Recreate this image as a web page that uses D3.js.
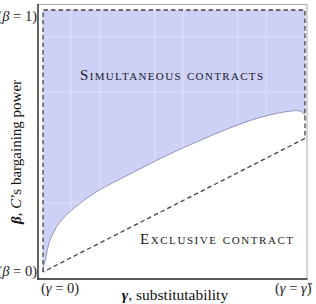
<!DOCTYPE html>
<html>
<head>
<meta charset="utf-8">
<script src="https://cdn.jsdelivr.net/npm/d3@7"></script>
<style>
  html, body { margin: 0; padding: 0; background: #fff; }
  svg { display: block; font-family: "Liberation Serif", "DejaVu Serif", serif; }
</style>
</head>
<body>
<svg id="chart" width="316" height="304"></svg>
<script>
// threshold curve: gamma (as share of gamma-hat) vs beta
const curveGamma = [0, 0.002, 0.0065, 0.019, 0.045, 0.083, 0.134, 0.197, 0.274, 0.332, 0.458, 0.587, 0.714, 0.840, 0.930, 0.968, 0.992, 1.0];
const curveBeta  = [0, 0.018, 0.034, 0.095, 0.160, 0.211, 0.256, 0.302, 0.344, 0.374, 0.438, 0.497, 0.550, 0.593, 0.612, 0.616, 0.607, 0.594];

// dashed feasible region outline
const boundGamma = [0, 0, 1, 1, 0];
const boundBeta  = [0, 1, 1, 0.51, 0];

const gridX = [0.107, 0.218, 0.427, 0.534, 0.744, 0.851];
const gridY = [0.897, 0.687, 0.263];

const svg = d3.select('#chart');

const x = d3.scaleLinear().domain([0, 1]).range([43, 305]);
const y = d3.scaleLinear().domain([0, 1]).range([272, 10]);

const curve = curveGamma.map((g, i) => ({ g, b: curveBeta[i] }));
const bound = boundGamma.map((g, i) => ({ g, b: boundBeta[i] }));

// shaded region above the curve
const area = d3.area()
    .x(d => x(d.g))
    .y0(y(1))
    .y1(d => y(d.b))
    .curve(d3.curveMonotoneX);

svg.append('path')
    .datum(curve)
    .attr('d', area)
    .attr('fill', '#cdd1f6');

// faint white grid
const grid = svg.append('g').attr('stroke', '#fff').attr('stroke-opacity', 0.45).attr('stroke-width', 0.8);
grid.selectAll('line.gx').data(gridX).enter().append('line')
    .attr('x1', d => x(d)).attr('x2', d => x(d))
    .attr('y1', y(1)).attr('y2', y(0));
grid.selectAll('line.gy').data(gridY).enter().append('line')
    .attr('x1', x(0)).attr('x2', x(1))
    .attr('y1', d => y(d)).attr('y2', d => y(d));

// curve line
svg.append('path')
    .datum(curve)
    .attr('d', d3.line().x(d => x(d.g)).y(d => y(d.b)).curve(d3.curveMonotoneX))
    .attr('fill', 'none')
    .attr('stroke', '#8a8cb0')
    .attr('stroke-width', 0.9);

// dashed boundary
svg.append('path')
    .datum(bound)
    .attr('d', d3.line().x(d => x(d.g)).y(d => y(d.b)))
    .attr('fill', 'none')
    .attr('stroke', '#444')
    .attr('stroke-width', 1.3)
    .attr('stroke-dasharray', '4.5,3');

// frame
svg.append('line').attr('x1', 38).attr('x2', 307).attr('y1', 4.5).attr('y2', 4.5)
    .attr('stroke', '#aaa').attr('stroke-width', 1);
svg.append('line').attr('x1', 307).attr('x2', 307).attr('y1', 4.5).attr('y2', 279)
    .attr('stroke', '#aaa').attr('stroke-width', 1);
svg.append('line').attr('x1', 38).attr('x2', 38).attr('y1', 4).attr('y2', 279.5)
    .attr('stroke', '#222').attr('stroke-width', 1.4);
svg.append('line').attr('x1', 37.3).attr('x2', 307.5).attr('y1', 279).attr('y2', 279)
    .attr('stroke', '#222').attr('stroke-width', 1.4);

// region labels
svg.append('text')
    .attr('x', 80).attr('y', 80)
    .attr('font-size', 15)
    .attr('fill', '#1a1a2e')
    .style('font-variant', 'small-caps')
    .attr('textLength', 183)
    .attr('lengthAdjust', 'spacing')
    .text('Simultaneous contracts');

svg.append('text')
    .attr('x', 140).attr('y', 244)
    .attr('font-size', 15)
    .attr('fill', '#1a1a1a')
    .style('font-variant', 'small-caps')
    .attr('textLength', 153)
    .attr('lengthAdjust', 'spacing')
    .text('Exclusive contract');

// endpoint labels
const endLabel = (tx, ty, anchor, sym, val) => {
    const t = svg.append('text').attr('x', tx).attr('y', ty)
        .attr('text-anchor', anchor).attr('font-size', 14.5).attr('fill', '#222');
    t.append('tspan').text('(');
    t.append('tspan').attr('font-style', 'italic').text(sym);
    t.append('tspan').text(' = ');
    t.append('tspan').attr('font-style', sym === 'γ' && val !== '0' ? 'italic' : 'normal').text(val);
    t.append('tspan').text(')');
};
endLabel(37, 21, 'end', 'β', '1');
endLabel(37, 276, 'end', 'β', '0');
endLabel(41, 293, 'start', 'γ', '0');
endLabel(275, 293, 'start', 'γ', 'γ\u0302');

// axis titles
const xt = svg.append('text').attr('x', 175).attr('y', 300)
    .attr('text-anchor', 'middle').attr('font-size', 15.5).attr('fill', '#111');
xt.append('tspan').attr('font-weight', 'bold').attr('font-style', 'italic').text('γ');
xt.append('tspan').text(', substitutability');

const yt = svg.append('text')
    .attr('transform', 'translate(21,152) rotate(-90)')
    .attr('text-anchor', 'middle').attr('font-size', 15).attr('fill', '#111');
yt.append('tspan').attr('font-weight', 'bold').attr('font-style', 'italic').text('β');
yt.append('tspan').text(', ');
yt.append('tspan').attr('font-style', 'italic').text('C');
yt.append('tspan').text('\u2019s bargaining power');
</script>
</body>
</html>
